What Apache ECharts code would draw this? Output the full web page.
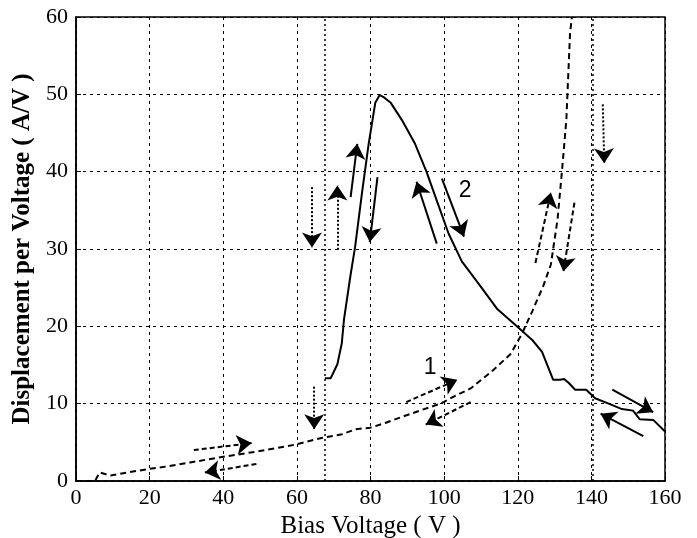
<!DOCTYPE html>
<html>
<head>
<meta charset="utf-8">
<script src="https://cdn.jsdelivr.net/npm/echarts@6/dist/echarts.min.js"></script>
<style>
html,body{margin:0;padding:0;background:#fff;}
#chart{width:697px;height:538px;}
</style>
</head>
<body>
<div id="chart"></div>
<script>
// curve 1 (dashed)
var curve1X = [0, 5.2, 5.6, 6.4, 9.4, 14, 19.7, 25, 31, 39.6, 49, 59.5, 67, 72, 76, 80, 84, 88, 94, 99, 103, 107.3, 113, 118, 121, 124, 127, 129, 130.8, 132, 133.2, 134.2, 134.7];
var curve1Y = [0, 0, 0.4, 1.1, 0.7, 1.1, 1.55, 1.9, 2.4, 3.1, 3.8, 4.7, 5.6, 6.0, 6.7, 6.9, 7.5, 8.2, 9.2, 10, 11, 12, 14.2, 16.4, 18.9, 22, 25.3, 28, 33.8, 40, 46.7, 57.8, 60];
// curve 2 (solid)
var curve2X = [67.6, 69.2, 71, 72.2, 72.8, 74.6, 75.8, 77.7, 79.5, 81.3, 82.5, 83.7, 85.5, 88.5, 92.1, 95.2, 98.2, 101.2, 104.8, 109.7, 114.5, 119.3, 124, 126.6, 129.6, 131.5, 132.6, 133.8, 135.6, 138.6, 141, 144.7, 148.3, 151.3, 153.1, 156.8, 160];
var curve2Y = [13.3, 13.3, 15.1, 17.8, 20.9, 26.7, 30.2, 37.3, 43.6, 48.9, 49.9, 49.6, 48.9, 46.7, 43.6, 40, 36, 32, 28.4, 25.3, 22.2, 20.2, 18.2, 16.7, 13.1, 13.1, 13.2, 12.7, 11.8, 11.8, 10.7, 10, 9.3, 9.1, 8, 7.9, 6.4];

var xTicks = [0, 20, 40, 60, 80, 100, 120, 140, 160];
var yTicks = [0, 10, 20, 30, 40, 50, 60];

// extra vertical dotted markers
var vMarks = [67.6, 140.3];

// annotation arrows [x1, y1, x2, y2], head at second point
var solidArrows = [
  [74.6, 36.7, 76.4, 43.6],
  [81.9, 39.3, 79.8, 30.9],
  [98, 30.7, 92.5, 38.7],
  [99.4, 39.1, 105.4, 31.6],
  [145.7, 11.8, 156.8, 8.9],
  [154.1, 5.8, 142.5, 8.7]
];
var dashedArrows = [
  [32, 4.0, 47.7, 4.9],
  [49, 2.2, 35, 1.1],
  [89.7, 10.2, 103.6, 13.1],
  [107.2, 10.2, 95, 7.3],
  [124.8, 28.2, 129, 37.3],
  [135.4, 36, 132.4, 27.1]
];
var dottedArrows = [
  [64.7, 12.2, 64.7, 6.7],
  [64.1, 38, 64.1, 30.2],
  [71, 29.9, 71, 38.2],
  [143.1, 48.7, 143.5, 41.1]
];
var curveLabels = [
  ['1', 96.2, 14.6],
  ['2', 105.7, 37.6]
];

function pairs(xs, ys) {
  return xs.map(function (x, i) { return [x, ys[i]]; });
}
function arrowData(list) {
  return list.map(function (a) { return { coords: [[a[0], a[1]], [a[2], a[3]]] }; });
}
function arrowSeries(list, type) {
  return {
    type: 'lines',
    coordinateSystem: 'cartesian2d',
    symbol: ['none', 'arrow'],
    symbolSize: [0, 15],
    z: 5,
    lineStyle: { color: '#000', width: 2, type: type, opacity: 1 },
    data: arrowData(list),
    silent: true
  };
}

var myChart = echarts.init(document.getElementById('chart'));
var serif = '"Liberation Serif", "DejaVu Serif", serif';

var option = {
  animation: false,
  backgroundColor: '#fff',
  grid: {
    left: 76, right: 32, top: 17, bottom: 57,
    outerBoundsMode: 'none',
    containLabel: false,
    show: true, borderColor: '#000', borderWidth: 1.5
  },
  xAxis: {
    type: 'value',
    min: 0, max: 160, interval: 20,
    name: 'Bias Voltage ( V )',
    nameLocation: 'middle',
    nameGap: 30,
    nameTextStyle: { fontFamily: serif, fontSize: 25, color: '#000' },
    axisLine: { show: true, lineStyle: { color: '#000', width: 1.5 } },
    axisTick: { show: true, inside: true, length: 5, lineStyle: { color: '#000' } },
    axisLabel: {
      fontFamily: serif, fontSize: 22, color: '#000', margin: 6,
      formatter: function (v) { return xTicks.indexOf(v) >= 0 ? String(v) : ''; }
    },
    splitLine: { show: true, lineStyle: { color: '#000', width: 1, type: [3, 4] } }
  },
  yAxis: {
    type: 'value',
    min: 0, max: 60, interval: 10,
    name: 'Displacement per Voltage ( A/V )',
    nameLocation: 'middle',
    nameGap: 37,
    nameTextStyle: { fontFamily: serif, fontSize: 25, color: '#000', fontWeight: 'bold' },
    axisLine: { show: true, lineStyle: { color: '#000', width: 1.5 } },
    axisTick: { show: true, inside: true, length: 5, lineStyle: { color: '#000' } },
    axisLabel: {
      fontFamily: serif, fontSize: 22, color: '#000', margin: 8,
      formatter: function (v) { return yTicks.indexOf(v) >= 0 ? String(v) : ''; }
    },
    splitLine: { show: true, lineStyle: { color: '#000', width: 1, type: [3, 4] } }
  },
  series: [
    {
      type: 'line',
      data: pairs(curve1X, curve1Y),
      symbol: 'none',
      lineStyle: { color: '#000', width: 2, type: [6, 4] },
      markLine: {
        silent: true,
        symbol: 'none',
        label: { show: false },
        lineStyle: { color: '#000', width: 1.5, type: [2, 3] },
        data: vMarks.map(function (v) { return { xAxis: v }; })
      }
    },
    {
      type: 'line',
      data: pairs(curve2X, curve2Y),
      symbol: 'none',
      lineStyle: { color: '#000', width: 2 }
    },
    arrowSeries(solidArrows, 'solid'),
    arrowSeries(dashedArrows, [5, 3]),
    arrowSeries(dottedArrows, [2, 2]),
    {
      type: 'scatter',
      symbolSize: 1,
      itemStyle: { opacity: 1, color: '#fff' },
      data: curveLabels.map(function (l) { return { value: [l[1], l[2]], name: l[0] }; }),
      label: {
        show: true,
        position: 'inside',
        formatter: '{b}',
        fontFamily: '"Liberation Sans", Arial, sans-serif',
        fontSize: 23,
        color: '#000',
        opacity: 1
      },
      z: 6,
      silent: true
    }
  ]
};

myChart.setOption(option);
window.addEventListener('resize', function () {
  myChart.resize();
});
</script>
</body>
</html>
